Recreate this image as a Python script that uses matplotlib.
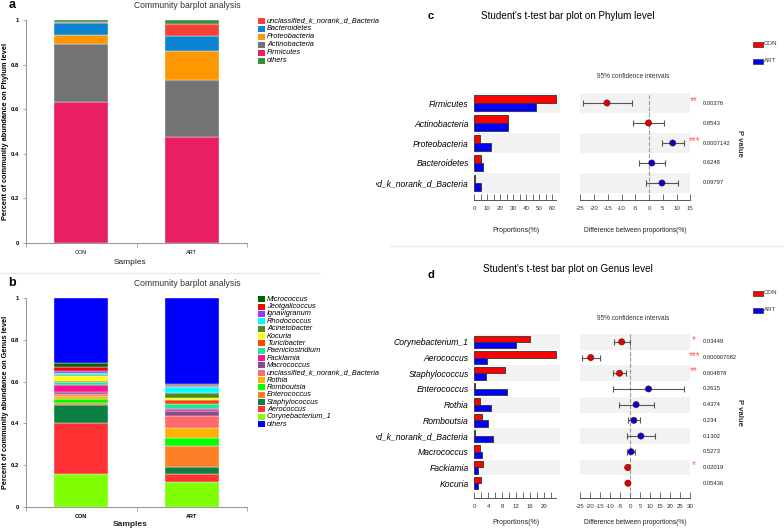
import matplotlib
matplotlib.use("Agg")
import matplotlib.pyplot as plt
import numpy as np
from matplotlib.patches import Rectangle
from matplotlib.lines import Line2D
from matplotlib.transforms import Bbox, TransformedBbox

W, H = 784, 530
plt.rcParams['font.family'] = ['Liberation Sans', 'DejaVu Sans']
plt.rcParams['axes.unicode_minus'] = False

# ---------------- data ----------------
samples = ['CON', 'ART']

# panel a: phylum composition, stacked bottom -> top
phylum_names = ['Firmicutes', 'Actinobacteria', 'Proteobacteria', 'Bacteroidetes',
                'unclassified_k_norank_d_Bacteria', 'others']
phylum_con = [0.634, 0.259, 0.040, 0.055, 0.003, 0.009]
phylum_art = [0.475, 0.255, 0.133, 0.064, 0.055, 0.018]
phylum_colors = ['#e91e63', '#737373', '#ff9800', '#0a84d0', '#f44336', '#388e3c']

# panel b: genus composition, stacked bottom -> top
genus_names = ['Corynebacterium_1', 'Aerococcus', 'Staphylococcus', 'Enterococcus',
               'Romboutsia', 'Rothia', 'unclassified_k_norank_d_Bacteria', 'Macrococcus',
               'Facklamia', 'Paeniclostridium', 'Turicibacter', 'Kocuria', 'Acinetobacter',
               'Rhodococcus', 'Ignavigranum', 'Jeotgalicoccus', 'Micrococcus', 'others']
genus_con = [0.160, 0.240, 0.090, 0.006, 0.019, 0.018, 0.006, 0.013, 0.032, 0.013,
             0.006, 0.024, 0.005, 0.008, 0.013, 0.019, 0.016, 0.312]
genus_art = [0.120, 0.037, 0.033, 0.100, 0.041, 0.045, 0.061, 0.022, 0.011, 0.023,
             0.019, 0.010, 0.025, 0.026, 0.004, 0.006, 0.005, 0.412]
genus_colors = ['#7fff00', '#ff3333', '#0b8043', '#ff7f27', '#00ff00', '#ffb300',
                '#ff6a6a', '#884c8c', '#ff1493', '#20e89a', '#ff4500', '#ffff00',
                '#4d8c1a', '#00ffff', '#9933ff', '#ff0000', '#006400', '#0000ff']

# panel c: t-test on phylum level
c_names = ['Firmicutes', 'Actinobacteria', 'Proteobacteria', 'Bacteroidetes',
           'unclassified_k_norank_d_Bacteria']
c_con = [62.6, 25.9, 4.1, 5.1, 0.5]
c_art = [47.4, 25.9, 12.8, 6.4, 4.9]
c_diff = [-15.3, -0.2, 8.6, 1.0, 4.7]
c_lo = [-24.2, -5.8, 4.7, -3.8, -1.1]
c_hi = [-6.2, 5.5, 12.7, 5.8, 10.4]
c_p = ['0.00376', '0.8543', '0.0007142', '0.6248', '0.09797']
c_stars = ['**', '', '***', '', '']

# panel d: t-test on genus level
d_names = ['Corynebacterium_1', 'Aerococcus', 'Staphylococcus', 'Enterococcus', 'Rothia',
           'Romboutsia', 'unclassified_k_norank_d_Bacteria', 'Macrococcus', 'Fackiamia',
           'Kocuria']
d_con = [16.1, 23.6, 8.9, 0.3, 1.7, 2.2, 0.3, 1.6, 2.4, 2.0]
d_art = [11.9, 3.8, 3.5, 9.4, 4.7, 3.9, 5.5, 2.2, 1.2, 1.1]
d_diff = [-4.3, -19.8, -5.4, 9.1, 2.9, 1.8, 5.3, 0.4, -1.3, -1.2]
d_lo = [-8.1, -24.0, -8.8, -8.6, -5.6, -1.4, -1.9, -1.6, -1.9, -1.9]
d_hi = [-0.4, -15.1, -2.1, 26.7, 11.6, 4.8, 12.5, 2.4, -0.6, -0.5]
d_p = ['0.03449', '0.000007082', '0.004878', '0.2615', '0.4374', '0.234', '0.1302',
       '0.5273', '0.02019', '0.05436']
d_stars = ['*', '***', '**', '', '', '', '', '', '*', '']

# ---------------- helpers ----------------
fig = plt.figure(figsize=(W / 100, H / 100), dpi=100)


def rect(x0, y0, x1, y1):
    return [x0 / W, 1 - y1 / H, (x1 - x0) / W, (y1 - y0) / H]


def ftext(x, y, s, **kw):
    return fig.text(x / W, 1 - y / H, s, **kw)


def stacked_panel(top, bottom, names, con, art, colors, letter, ylabel, legend_y0, legend_dy, bold_x):
    ax = fig.add_axes(rect(26, top, 247, bottom))
    vals = np.array([con, art])
    base = np.zeros(2)
    for j in range(len(names)):
        ax.bar([0, 1], vals[:, j], bottom=base, width=0.49, color=colors[j],
               edgecolor='#f4f4f4', linewidth=0.3)
        base += vals[:, j]
    ax.set_xlim(-0.5, 1.5)
    ax.set_ylim(0, 1)
    for s in ['top', 'right']:
        ax.spines[s].set_visible(False)
    for s in ['left', 'bottom']:
        ax.spines[s].set_color('#9a9a9a')
        ax.spines[s].set_linewidth(0.8)
    ax.set_yticks([0, 0.2, 0.4, 0.6, 0.8, 1.0], ['0', '0.2', '0.4', '0.6', '0.8', '1'])
    ax.tick_params(axis='y', length=2, width=0.6, color='#9a9a9a', labelsize=4.2, pad=3)
    for lbl in ax.get_yticklabels():
        lbl.set_fontweight('bold')
    ax.set_xticks([-0.5, 0.5, 1.5], ['', '', ''])
    ax.set_xticks([0, 1], samples, minor=True)
    ax.tick_params(axis='x', which='major', length=3, width=0.6, color='#9a9a9a')
    ax.tick_params(axis='x', which='minor', length=0, labelsize=4.0, pad=5)
    for lbl in ax.get_xticklabels(minor=True):
        lbl.set_fontweight('bold' if bold_x else 'normal')
    mid = (top + bottom) / 2
    ftext(5.5, mid, ylabel, fontsize=5.3, fontweight='bold', rotation=90,
          ha='center', va='center')
    ftext(130, bottom + 19 if not bold_x else bottom + 17, 'Samples', fontsize=6,
          fontweight='bold' if bold_x else 'normal', ha='center', va='center', color='#222')
    ftext(12, top - 15, letter, fontsize=9, fontweight='bold', ha='center', va='center')
    ftext(187, top - 14, 'Community barplot analysis', fontsize=6.2, ha='center', va='center',
          color='#333')
    # legend: reversed stack order, "others" last
    order = list(range(len(names) - 2, -1, -1)) + [len(names) - 1]
    for k, j in enumerate(order):
        yy = legend_y0 + k * legend_dy
        fig.patches.append(Rectangle((258 / W, 1 - (yy + 3) / H), 6.5 / W, 6 / H,
                                     transform=fig.transFigure, facecolor=colors[j],
                                     edgecolor='none'))
        ftext(267, yy, names[j], fontsize=5.3, style='italic', va='center')
    return ax


def ttest_panel(top, bottom, names, con, art, diff, lo, hi, pvals, stars,
                pmax, pticks_major, pticks_minor, dlim, dticks, letter, letter_y,
                title, title_y, legend_y, xlabel_y):
    n = len(names)
    y = np.arange(n)
    axL = fig.add_axes(rect(474.3, top, 560, bottom))
    axR = fig.add_axes(rect(580.3, top, 690.3, bottom))
    for ax in (axL, axR):
        ax.set_ylim(n - 0.5, -0.5)
        for i in range(0, n, 2):
            ax.axhspan(i - 0.5, i + 0.5, color='#f2f2f2', zorder=0, lw=0)
        ax.set_facecolor('none')
        for s in ['left', 'top', 'right']:
            ax.spines[s].set_visible(False)
        ax.spines['bottom'].set_position(('outward', 5))
        ax.spines['bottom'].set_color('#555')
        ax.spines['bottom'].set_linewidth(0.7)
        ax.tick_params(axis='x', which='both', direction='in', length=4, width=0.6,
                       color='#555', labelsize=4.4, pad=4, labelcolor='#333')
    # proportions
    axL.barh(y - 0.2, con, height=0.4, color='#ff0000', edgecolor='#333', linewidth=0.6)
    axL.barh(y + 0.2, art, height=0.4, color='#0000ff', edgecolor='#333', linewidth=0.6)
    axL.set_xlim(0, pmax)
    axL.spines['bottom'].set_bounds(0, max(max(con), max(art)))
    axL.set_xticks(pticks_major)
    axL.set_xticks(pticks_minor, minor=True)
    axL.set_yticks(y, names, fontsize=6.2, style='italic')
    axL.tick_params(axis='y', length=0, pad=4)
    clip = TransformedBbox(Bbox([[376 / W, 0], [1, 1]]), fig.transFigure)
    for lbl in axL.get_yticklabels():
        lbl.set_clip_box(clip)
        lbl.set_clip_on(True)
    # differences
    diff = np.array(diff)
    cols = ['#e00000' if d < 0 else '#0000e0' for d in diff]
    axR.axvline(0, color='#999', ls='--', lw=0.8, zorder=1)
    axR.errorbar(diff, y, xerr=[diff - np.array(lo), np.array(hi) - diff], fmt='none',
                 ecolor='#555', elinewidth=0.8, capsize=2.2, capthick=0.8, zorder=2)
    axR.scatter(diff, y, c=cols, s=20, edgecolors='#551111', linewidths=0.4, zorder=3)
    axR.set_xlim(*dlim)
    axR.set_xticks(dticks)
    axR.set_yticks([])
    tr = axR.get_yaxis_transform()
    for i in range(n):
        axR.text(1.11, i, pvals[i], transform=tr, fontsize=4.2, va='center', color='#222',
                 clip_on=False)
        if stars[i]:
            axR.text(1.035, i - 0.12, stars[i], transform=tr, fontsize=7, va='center',
                     ha='center', color='#ff5a5a', clip_on=False)
    ymid = (top + bottom) / 2
    ftext(740, ymid, 'P value', fontsize=5.6, fontweight='bold', rotation=270,
          ha='center', va='center', color='#333')
    ftext(431, letter_y, letter, fontsize=8, fontweight='bold', ha='center', va='center')
    ftext(568, title_y, title, fontsize=7.1, ha='center', va='center')
    # legend
    for k, (lab, col) in enumerate([('CON', '#ff0000'), ('ART', '#0000ff')]):
        yy = legend_y + k * 17
        fig.patches.append(Rectangle((752.7 / W, 1 - (yy + 2.5) / H), 10 / W, 5 / H,
                                     transform=fig.transFigure, facecolor=col,
                                     edgecolor='#333', linewidth=0.5))
        ftext(763.5, yy - 1, lab, fontsize=4.4, va='center', color='#333')
    ftext(633, top - 16, '95% confidence intervals', fontsize=4.7, ha='center', va='center',
          color='#333')
    ftext(516, xlabel_y, 'Proportions(%)', fontsize=5.0, ha='center', va='center',
          color='#222')
    ftext(635, xlabel_y, 'Difference between proportions(%)', fontsize=4.8, ha='center',
          va='center', color='#222')
    return axL, axR


# ---------------- panels ----------------
stacked_panel(20, 243, phylum_names, phylum_con, phylum_art, phylum_colors, 'a',
              'Percent of community abundance on Phylum level', 20.7, 8.05, False)
stacked_panel(298, 507, genus_names, genus_con, genus_art, genus_colors, 'b',
              'Percent of community abundance on Genus level', 299.3, 7.34, True)

ttest_panel(93, 193, c_names, c_con, c_art, c_diff, c_lo, c_hi, c_p, c_stars,
            66, np.arange(0, 61, 10), np.arange(0, 61, 5), (-25, 15), np.arange(-25, 16, 5),
            'c', 16, "Student's t-test bar plot on Phylum level", 16, 44.3, 230)
ttest_panel(334, 491, d_names, d_con, d_art, d_diff, d_lo, d_hi, d_p, d_stars,
            24.7, np.arange(0, 21, 4), np.arange(0, 23, 2), (-25, 30), np.arange(-25, 31, 5),
            'd', 275, "Student's t-test bar plot on Genus level", 269, 293.3, 522.5)

# faint separators between panels
fig.add_artist(Line2D([0, 320 / W], [1 - 273 / H, 1 - 273 / H], transform=fig.transFigure,
                      color='#e8e8e8', lw=0.8))
fig.add_artist(Line2D([390 / W, 1], [1 - 246 / H, 1 - 246 / H], transform=fig.transFigure,
                      color='#e8e8e8', lw=0.8))

fig.savefig('out.png', dpi=100, facecolor='white')
